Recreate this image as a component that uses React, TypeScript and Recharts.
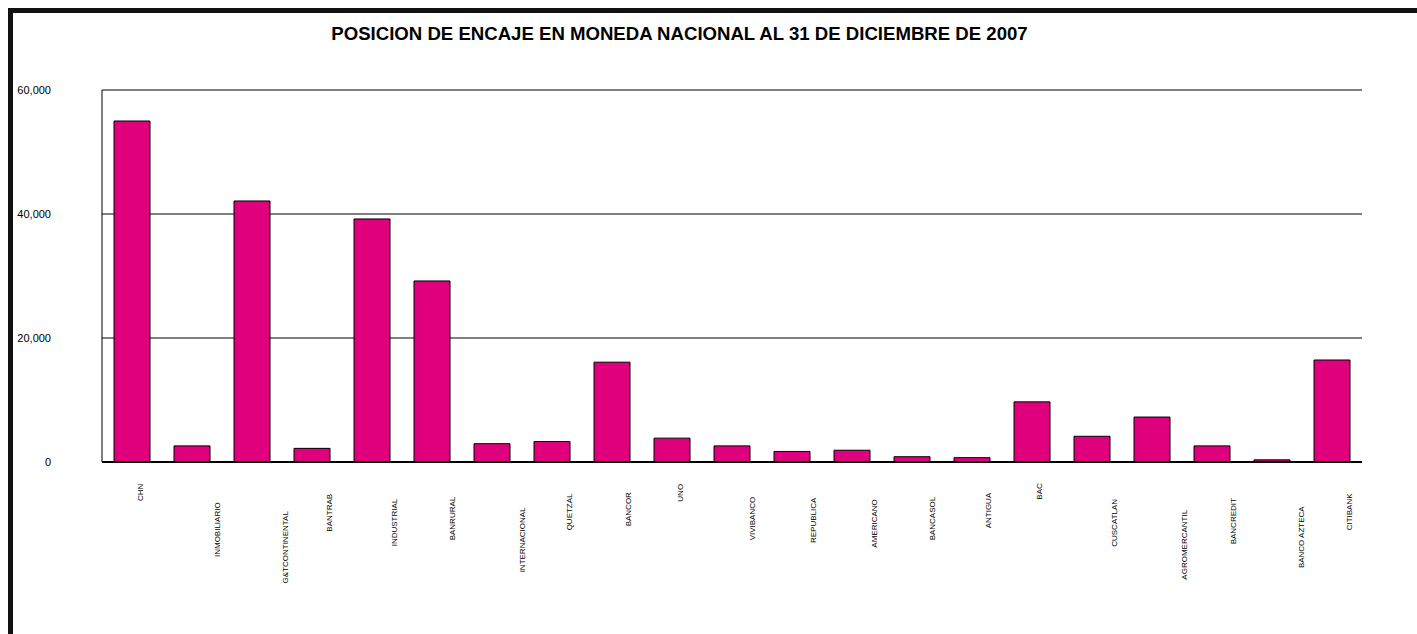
import { BarChart, Bar, XAxis, YAxis, CartesianGrid } from "recharts";

const banks = [
  "CHN",
  "INMOBILIARIO",
  "G&TCONTINENTAL",
  "BANTRAB",
  "INDUSTRIAL",
  "BANRURAL",
  "INTERNACIONAL",
  "QUETZAL",
  "BANCOR",
  "UNO",
  "VIVIBANCO",
  "REPUBLICA",
  "AMERICANO",
  "BANCASOL",
  "ANTIGUA",
  "BAC",
  "CUSCATLAN",
  "AGROMERCANTIL",
  "BANCREDIT",
  "BANCO AZTECA",
  "CITIBANK",
];

const encaje = [
  55000, 2600, 42100, 2200, 39200, 29200, 2950, 3300, 16100, 3850, 2600, 1700,
  1900, 850, 700, 9700, 4150, 7250, 2600, 350, 16450,
];

const yTicks = [0, 20000, 40000, 60000];

const data = banks.map((name, i) => ({ name, value: encaje[i] }));

const FONT = "'Liberation Sans', Arial, sans-serif";

let ctx: CanvasRenderingContext2D | null = null;
function labelWidth(s: string) {
  if (!ctx) ctx = document.createElement("canvas").getContext("2d");
  if (!ctx) return s.length * 5;
  ctx.font = `8px ${FONT}`;
  return ctx.measureText(s).width;
}

// rotated labels, staggered the way the old spreadsheet drew them
function BankTick(props: any) {
  const { x, y, payload } = props;
  const len = labelWidth(payload.value);
  const cx = x + len * 0.47;
  const cy = y + 5 + len;
  return (
    <text
      transform={`translate(${cx},${cy}) rotate(-90)`}
      textAnchor="middle"
      dominantBaseline="central"
      fontSize={8}
      fontFamily={FONT}
      fill="#000"
    >
      {payload.value}
    </text>
  );
}

export default function App() {
  return (
    <div
      style={{
        position: "fixed",
        left: 8,
        top: 8,
        width: 1409,
        height: 626,
        borderTop: "5px solid #111",
        borderLeft: "5px solid #111",
        boxSizing: "border-box",
        background: "#fff",
      }}
    >
      <div
        style={{
          position: "absolute",
          left: 0,
          top: 11,
          width: 1333,
          textAlign: "center",
          fontFamily: FONT,
          fontWeight: "bold",
          fontSize: 18.6,
          lineHeight: "19px",
          color: "#000",
        }}
      >
        POSICION DE ENCAJE EN MONEDA NACIONAL AL 31 DE DICIEMBRE DE 2007
      </div>
      <BarChart
        width={1404}
        height={621}
        data={data}
        margin={{ top: 77, right: 55, left: 0, bottom: 0 }}
        barCategoryGap={12}
      >
        <CartesianGrid stroke="#000" vertical={false} />
        <XAxis
          dataKey="name"
          interval={0}
          height={172}
          tickLine={false}
          axisLine={{ stroke: "#000", strokeWidth: 2 }}
          tick={<BankTick />}
        />
        <YAxis
          domain={[0, 60000]}
          ticks={yTicks}
          width={89}
          tickLine={false}
          tickMargin={45}
          axisLine={{ stroke: "#000" }}
          tickFormatter={(v: number) => v.toLocaleString("en-US")}
          tick={{ fill: "#000", fontSize: 11, fontFamily: FONT }}
        />
        <YAxis
          yAxisId="right"
          orientation="right"
          width={0}
          tick={false}
          tickLine={false}
          axisLine={{ stroke: "#000" }}
        />
        <Bar
          dataKey="value"
          fill="#E0007E"
          stroke="#000"
          strokeWidth={1}
          isAnimationActive={false}
        />
      </BarChart>
    </div>
  );
}
